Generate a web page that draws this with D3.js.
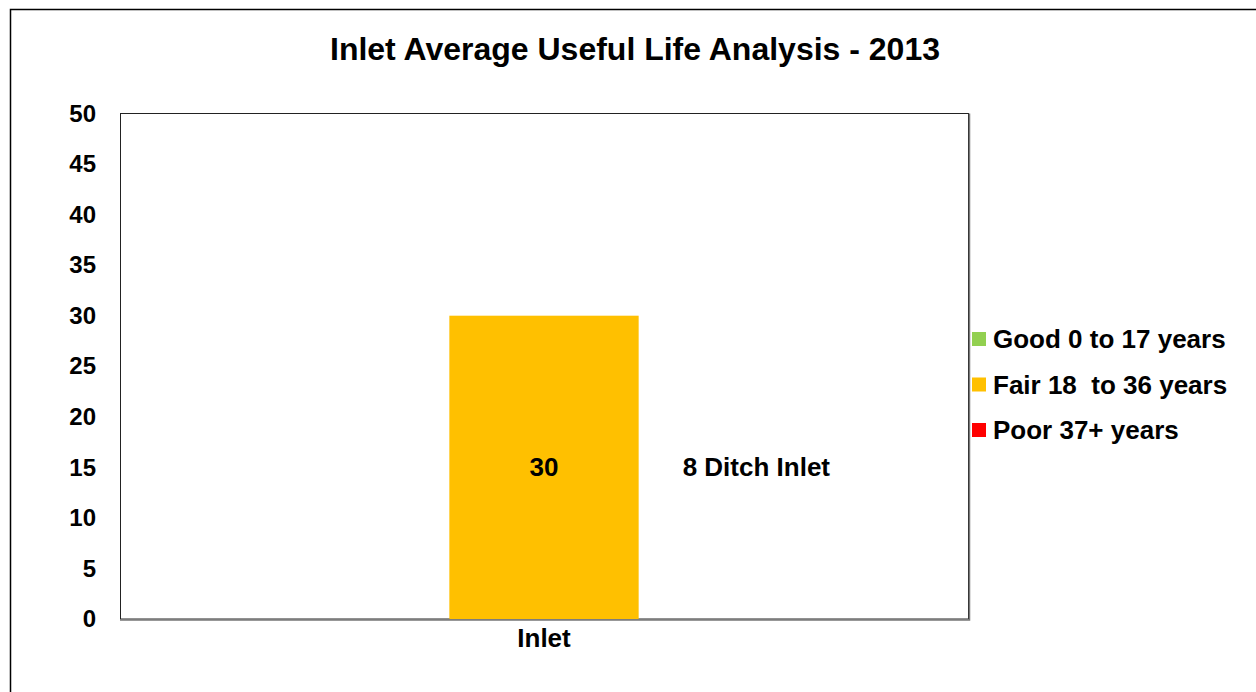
<!DOCTYPE html>
<html>
<head>
<meta charset="utf-8">
<script src="https://cdn.jsdelivr.net/npm/d3@7"></script>
<style>
  html, body { margin: 0; padding: 0; background: #fff; }
  svg text { font-family: "Liberation Sans", Arial, sans-serif; font-weight: bold; fill: #000; }
</style>
</head>
<body>
<div class="container"></div>
<script>
const categories = ["Inlet"];
const values = [30];
const valueLabels = ["30"];
const seriesNames = ["8 Ditch Inlet"];
const yTicks = [0, 5, 10, 15, 20, 25, 30, 35, 40, 45, 50];
const legendItems = ["Good 0 to 17 years", "Fair 18  to 36 years", "Poor 37+ years"];
const legendColors = ["#92D050", "#FFC000", "#FF0000"];
const title = "Inlet Average Useful Life Analysis - 2013";

const W = 1256, H = 692;
const plot = { left: 120, top: 113.5, right: 968, bottom: 619 };

const svg = d3.select(".container")
    .append("svg")
    .attr("width", W)
    .attr("height", H);

// outer chart frame
svg.append("rect")
    .attr("x", 10.5).attr("y", 9.5)
    .attr("width", W).attr("height", H)
    .attr("fill", "#fff")
    .attr("stroke", "#000")
    .attr("stroke-width", 1.5);

svg.append("text")
    .attr("x", 635).attr("y", 60)
    .attr("text-anchor", "middle")
    .style("font-size", "32px")
    .text(title);

const x = d3.scaleBand()
    .domain(categories)
    .range([plot.left, plot.right])
    .paddingInner(0.635)
    .paddingOuter(0.635);

const y = d3.scaleLinear()
    .domain([0, 50])
    .range([plot.bottom, plot.top]);

// plot area border
svg.append("rect")
    .attr("x", plot.left + 0.5).attr("y", plot.top)
    .attr("width", plot.right - plot.left).attr("height", plot.bottom - plot.top)
    .attr("fill", "#fff")
    .attr("stroke", "#222")
    .attr("stroke-width", 1);
svg.append("path")
    .attr("d", `M${plot.left},${plot.bottom + 1} H${plot.right + 1.5} V${plot.top}`)
    .attr("fill", "none")
    .attr("stroke", "#777")
    .attr("stroke-width", 1.5);

// bars
svg.selectAll(".bar")
    .data(values)
    .enter().append("rect")
    .attr("class", "bar")
    .attr("x", (d, i) => x(categories[i]))
    .attr("y", d => y(d))
    .attr("width", x.bandwidth())
    .attr("height", d => y(0) - y(d))
    .attr("fill", "#FFC000");

// value labels in bar
svg.selectAll(".val")
    .data(values)
    .enter().append("text")
    .attr("class", "val")
    .attr("x", (d, i) => x(categories[i]) + x.bandwidth() / 2)
    .attr("y", d => (y(d) + y(0)) / 2)
    .attr("dy", "0.35em")
    .attr("text-anchor", "middle")
    .style("font-size", "26px")
    .text((d, i) => valueLabels[i]);

// series name label next to bar
svg.selectAll(".sname")
    .data(values)
    .enter().append("text")
    .attr("class", "sname")
    .attr("x", (d, i) => x(categories[i]) + x.bandwidth() + 44)
    .attr("y", d => (y(d) + y(0)) / 2)
    .attr("dy", "0.35em")
    .style("font-size", "26px")
    .text((d, i) => seriesNames[i]);

// y axis labels
const yAxis = d3.axisLeft(y).tickValues(yTicks).tickSize(0).tickPadding(24);
const yg = svg.append("g")
    .attr("transform", `translate(${plot.left},0)`)
    .call(yAxis);
yg.select(".domain").remove();
yg.selectAll("text")
    .attr("fill", "#000")
    .style("font-size", "24px")
    .style("font-family", "'Liberation Sans', Arial, sans-serif")
    .style("font-weight", "bold");

// x axis labels
const xAxis = d3.axisBottom(x).tickSize(0).tickPadding(10);
const xg = svg.append("g")
    .attr("transform", `translate(0,${plot.bottom})`)
    .call(xAxis);
xg.select(".domain").remove();
xg.selectAll("text")
    .attr("fill", "#000")
    .attr("dy", "0.71em")
    .style("font-size", "26px")
    .style("font-family", "'Liberation Sans', Arial, sans-serif")
    .style("font-weight", "bold");

// legend
const legend = svg.selectAll(".legend")
    .data(legendItems)
    .enter().append("g")
    .attr("class", "legend")
    .attr("transform", (d, i) => `translate(972, ${339 + i * 45.5})`);
legend.append("rect")
    .attr("x", 0).attr("y", -7)
    .attr("width", 14).attr("height", 14)
    .attr("fill", (d, i) => legendColors[i]);
legend.append("text")
    .attr("x", 21).attr("y", 0)
    .attr("dy", "0.35em")
    .style("font-size", "26px")
    .style("white-space", "pre")
    .attr("xml:space", "preserve")
    .text(d => d);
</script>
</body>
</html>
